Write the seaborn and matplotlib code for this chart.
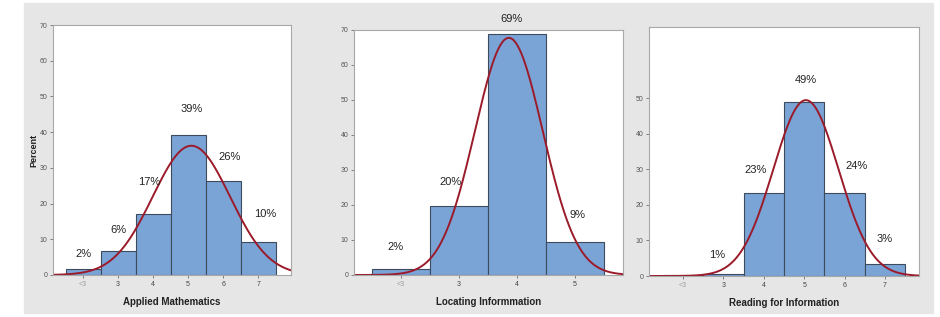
import numpy as np
import pandas as pd
import matplotlib
matplotlib.use('Agg')
import matplotlib.pyplot as plt
import seaborn as sns

# score levels (2 = the "<3" group) and percent of people per level
am_scores = [2, 3, 4, 5, 6, 7]
am_pct = [1.8, 6.6, 17.0, 39.2, 26.3, 9.3]
am_labels = ['2%', '6%', '17%', '39%', '26%', '10%']

li_scores = [2, 3, 4, 5]
li_pct = [1.8, 19.6, 68.8, 9.3]
li_labels = ['2%', '20%', '69%', '9%']

ri_scores = [2, 3, 4, 5, 6, 7]
ri_pct = [0.3, 0.7, 23.4, 49.0, 23.4, 3.3]
ri_labels = ['', '1%', '23%', '49%', '24%', '3%']

titles = ['Applied Mathematics', 'Locating Informmation', 'Reading for Information']

# where the % labels sit (x offset from bar centre, y in percent units)
label_pos = [
    [(0.0, 6.0), (0.0, 12.5), (-0.1, 26.0), (0.1, 46.5), (0.2, 33.0), (0.2, 17.0)],
    [(-0.1, 8.0), (-0.15, 26.5), (-0.1, 73.0), (0.05, 17.0)],
    [None, (-0.15, 6.0), (-0.2, 29.7), (0.05, 55.0), (0.3, 31.0), (0.0, 10.4)],
]
axes_rect = [
    [0.0564, 0.1325, 0.2532, 0.7886],
    [0.3766, 0.1325, 0.2862, 0.7729],
    [0.6904, 0.1293, 0.2872, 0.7855],
]
xlims = [(1.14, 7.94), (1.19, 5.83), (1.16, 7.84)]
yticks = [range(0, 71, 10), range(0, 71, 10), range(0, 51, 10)]

sns.set_theme(style='white')
plt.rcParams['font.family'] = ['Liberation Sans', 'DejaVu Sans']

bar_col = '#7aa3d6'
edge_col = '#3d4b5c'
curve_col = '#9b1b2a'

fig = plt.figure(figsize=(9.4, 3.17), dpi=100, facecolor='white')
bg = plt.Rectangle((24 / 940, 4 / 317), 909 / 940, 310 / 317,
                   transform=fig.transFigure, color='#e6e6e6', zorder=-10)
fig.add_artist(bg)

panels = [(am_scores, am_pct, am_labels), (li_scores, li_pct, li_labels), (ri_scores, ri_pct, ri_labels)]

for i, (scores, pct, labs) in enumerate(panels):
    ax = fig.add_axes(axes_rect[i])
    ax.set_facecolor('white')
    df = pd.DataFrame({'score': scores, 'pct': pct})
    sns.histplot(data=df, x='score', weights='pct', discrete=True, ax=ax,
                 color=bar_col, alpha=1, edgecolor=edge_col, linewidth=0.8)

    # fitted normal from the binned data
    w = np.array(pct)
    s = np.array(scores, dtype=float)
    mu = np.sum(w * s) / w.sum()
    sd = np.sqrt(np.sum(w * (s - mu) ** 2) / w.sum())
    xs = np.linspace(xlims[i][0], xlims[i][1], 300)
    ys = w.sum() * np.exp(-0.5 * ((xs - mu) / sd) ** 2) / (sd * np.sqrt(2 * np.pi))
    sns.lineplot(x=xs, y=ys, ax=ax, color=curve_col, linewidth=1.4)

    for sc, lab, pos in zip(scores, labs, label_pos[i]):
        if pos is None:
            continue
        ax.text(sc + pos[0], pos[1], lab, ha='center', va='center',
                fontsize=8, color='#222222', clip_on=False)

    ax.set_xlim(*xlims[i])
    ax.set_ylim(0, 70)
    ax.set_yticks(list(yticks[i]))
    ax.set_xticks(scores)
    ax.set_xticklabels(['<3'] + [str(v) for v in scores[1:]])
    ax.tick_params(axis='both', labelsize=5, colors='#555555', length=2, width=0.5,
                   direction='out', pad=2, bottom=True, left=True)
    ax.get_xticklabels()[0].set_color('#9a9a9a')
    for t in ax.get_xticklabels()[1:]:
        t.set_color('#444444')
    ax.set_xlabel(titles[i], fontsize=7, fontweight='bold', color='#222222', labelpad=7)
    ax.set_ylabel('Percent' if i == 0 else '', fontsize=6.5, fontweight='bold', color='#222222', labelpad=1)
    for sp in ax.spines.values():
        sp.set_color('#a8a8a8')
        sp.set_linewidth(0.8)

fig.savefig('out.png', dpi=100, facecolor=fig.get_facecolor())
